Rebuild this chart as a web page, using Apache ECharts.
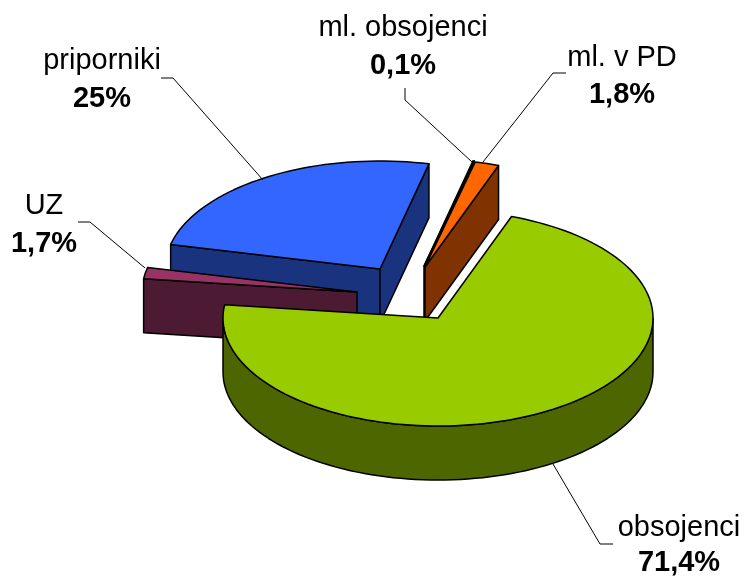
<!DOCTYPE html>
<html>
<head>
<meta charset="utf-8">
<style>
  html, body { margin: 0; padding: 0; background: #fff; }
  #chart { width: 744px; height: 581px; }
</style>
<script src="https://cdn.jsdelivr.net/npm/echarts@6/dist/echarts.min.js"></script>
</head>
<body>
<div id="chart"></div>
<script>
// values as printed on the chart, in clockwise order
const sliceNames = ["obsojenci", "UZ", "priporniki", "ml. obsojenci", "ml. v PD"];
const sliceValues = [71.4, 1.7, 25, 0.1, 1.8];
const sliceTexts = ["71,4%", "1,7%", "25%", "0,1%", "1,8%"];

const topColors = ["#99cc00", "#993366", "#3366ff", "#5f6b60", "#ff6600"];
const wallColors = ["#4d6600", "#4d1a33", "#1a337f", "#303530", "#803300"];

// how far each slice is pulled out of the pie, and paint order (back to front)
const explodeX = [0, -81, -58, -14, -13];
const explodeY = [0, -26, -49, -52, -51];
const paintOrder = [5, 4, 1, 2, 3];

// label centres: name line x,y and value line y
const labelX = [679, 44, 102, 403, 622];
const nameY = [528, 206, 61, 28, 58];
const valueY = [563, 244, 99, 66, 95];
const leaders = [
  [[613, 544], [600, 544], [553, 464]],
  [[78, 222], [90, 222], [145, 268]],
  [[161, 78], [173, 78], [263, 180]],
  [[405, 88], [405, 100], [472, 162]],
  [[566, 73], [553, 73], [483, 162]]
];

const centerX = 438, centerY = 318, radiusX = 215, radiusY = 108, depth = 54;
const startAngle = 20;
const FONT = '"Liberation Sans", Arial, sans-serif';

const total = sliceValues.reduce((a, b) => a + b, 0);
const onRim = (deg, ox, oy) => {
  const r = deg * Math.PI / 180;
  return [centerX + ox + radiusX * Math.sin(r), centerY + oy - radiusY * Math.cos(r)];
};
const arc = (a0, a1, ox, oy) => {
  const pts = [];
  const n = Math.max(2, Math.ceil(Math.abs(a1 - a0) / 2));
  for (let i = 0; i <= n; i++) pts.push(onRim(a0 + (a1 - a0) * i / n, ox, oy));
  return pts;
};
const down = pts => pts.map(p => [p[0], p[1] + depth]);
const sinDeg = a => Math.sin(a * Math.PI / 180);

function renderItem(params, api) {
  const i = params.dataIndex;
  let before = 0;
  for (let k = 0; k < i; k++) before += sliceValues[k];
  const a0 = startAngle + before / total * 360;
  const a1 = a0 + api.value(0) / total * 360;
  const ox = explodeX[i], oy = explodeY[i];
  const apex = [centerX + ox, centerY + oy];
  const z = paintOrder[i] * 10;
  const wall = { fill: wallColors[i], stroke: "#000", lineWidth: 1.5, lineJoin: "round" };
  const children = [];

  const face = pts => children.push({
    type: "polygon", z2: z + children.length, shape: { points: pts }, style: wall
  });
  const radial = a => {
    const p = onRim(a, ox, oy);
    face([apex, p, [p[0], p[1] + depth], [apex[0], apex[1] + depth]]);
  };
  // only the radial sides turned towards the viewer
  if (sinDeg(a0) < 0) radial(a0);
  if (sinDeg(a1) > 0) radial(a1);
  // outer wall only on the front half of the rim
  const f0 = Math.max(a0, 90), f1 = Math.min(a1, 270);
  if (f1 > f0) {
    const rim = arc(f0, f1, ox, oy);
    face(rim.concat(down(rim).reverse()));
  }
  children.push({
    type: "polygon", z2: z + 5,
    shape: { points: [apex].concat(arc(a0, a1, ox, oy)) },
    style: { fill: topColors[i], stroke: "#000", lineWidth: 1.5, lineJoin: "round" }
  });

  children.push({
    type: "polyline", z2: 100, shape: { points: leaders[i] },
    style: { fill: null, stroke: "#000", lineWidth: 1 }
  });
  children.push({
    type: "text", z2: 101,
    style: {
      x: labelX[i], y: nameY[i], text: sliceNames[i], fill: "#000",
      font: "29px " + FONT, align: "center", verticalAlign: "middle"
    }
  });
  children.push({
    type: "text", z2: 101,
    style: {
      x: labelX[i], y: valueY[i], text: sliceTexts[i], fill: "#000",
      font: "bold 29px " + FONT, align: "center", verticalAlign: "middle"
    }
  });
  return { type: "group", children };
}

const myChart = echarts.init(document.getElementById("chart"), null, { renderer: "canvas" });
myChart.setOption({
  animation: false,
  backgroundColor: "#fff",
  series: [{
    type: "custom",
    coordinateSystem: "none",
    silent: true,
    renderItem,
    data: sliceValues.map((v, i) => ({ name: sliceNames[i], value: [v] }))
  }]
});
</script>
</body>
</html>
